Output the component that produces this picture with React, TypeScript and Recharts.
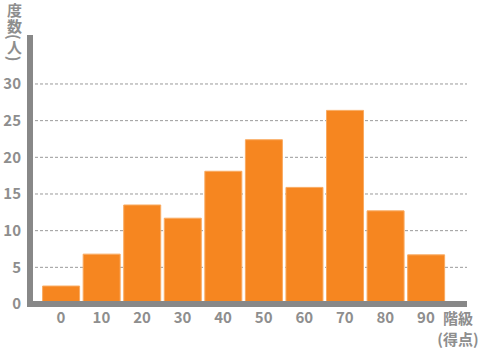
import React from 'react';
import { BarChart, Bar, XAxis, YAxis, CartesianGrid } from 'recharts';

const classes = ['0', '10', '20', '30', '40', '50', '60', '70', '80', '90'];
const counts = [2.45, 6.8, 13.5, 11.7, 18.1, 22.4, 15.9, 26.4, 12.7, 6.7];
const yTicks = [0, 5, 10, 15, 20, 25, 30];
const yLabel = '度数(人)';
const xLabelLines = ['階級', '(得点)'];

const data = classes.map((c, i) => ({ name: c, value: counts[i] }));

const FONT = '"Noto Sans CJK JP", "Noto Sans", sans-serif';
const GREY = '#888888';
const TEXT = '#8e8e8e';

export default function App() {
  return (
    <div style={{ position: 'absolute', left: 0, top: 0, width: 492, height: 356, background: '#fff', fontFamily: FONT }}>
      <BarChart
        width={492}
        height={356}
        data={data}
        margin={{ top: 38, right: 25, bottom: 22, left: 0 }}
        barSize={37}
      >
        <CartesianGrid
          vertical={false}
          horizontalValues={yTicks}
          stroke="#9a9a9a"
          strokeDasharray="3 2"
        />
        <XAxis
          dataKey="name"
          axisLine={{ stroke: GREY, strokeWidth: 6 }}
          tickLine={false}
          tickSize={0}
          tickMargin={8}
          height={30}
          padding={{ left: 10.6, right: 20.8 }}
          tick={{ fill: TEXT, fontSize: 15, fontFamily: FONT, fontWeight: 'bold' }}
          interval={0}
        />
        <YAxis
          domain={[0, 36.27]}
          ticks={yTicks}
          width={30}
          axisLine={{ stroke: GREY, strokeWidth: 6, strokeLinecap: 'square' }}
          tickLine={false}
          tickSize={0}
          tickMargin={9}
          tick={{ fill: TEXT, fontSize: 15, fontFamily: FONT, fontWeight: 'bold' }}
          allowDataOverflow
        />
        <Bar dataKey="value" fill="#f68620" stroke="#f9ab62" strokeWidth={1} isAnimationActive={false} />
      </BarChart>
      <div
        style={{
          position: 'absolute',
          left: 6,
          top: 3,
          writingMode: 'vertical-rl',
          fontSize: 15,
          lineHeight: '17px',
          letterSpacing: '0.5px',
          fontWeight: 'bold',
          color: TEXT,
          fontFamily: FONT,
        }}
      >
        {yLabel}
      </div>
      <div
        style={{
          position: 'absolute',
          left: 434,
          top: 307,
          width: 48,
          textAlign: 'center',
          fontSize: 15,
          lineHeight: '21px',
          fontWeight: 'bold',
          color: TEXT,
          fontFamily: FONT,
        }}
      >
        {xLabelLines.map((l) => (
          <div key={l}>{l}</div>
        ))}
      </div>
    </div>
  );
}
